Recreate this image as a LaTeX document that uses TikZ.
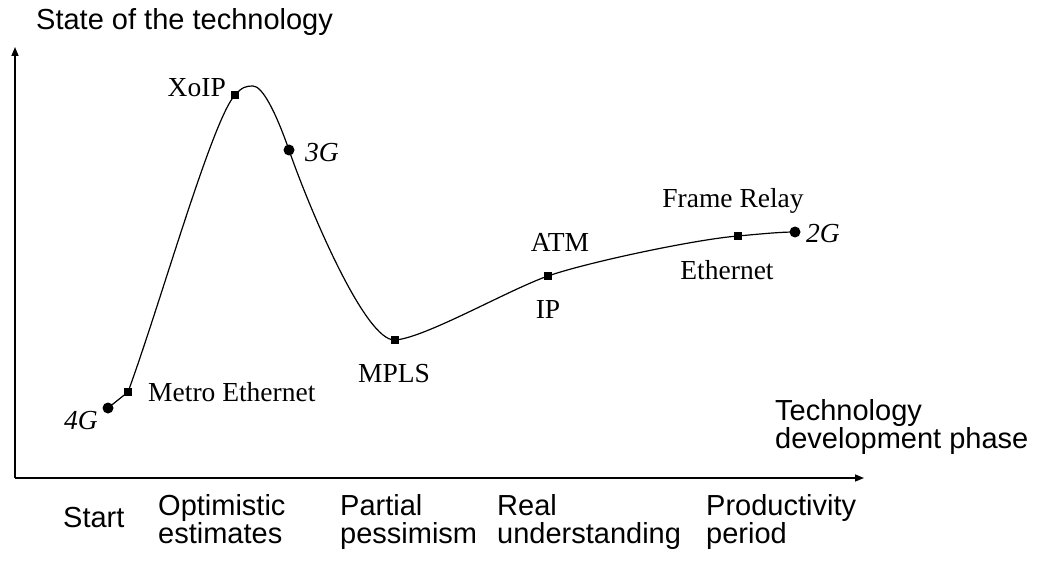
\documentclass[tikz,border=0pt]{standalone}
\usepackage{fontspec}
\setmainfont{Liberation Serif}
\setsansfont{Liberation Sans}
\usetikzlibrary{arrows.meta}
\begin{document}
\begin{tikzpicture}[x=1pt,y=-1pt,
  axis/.style={line width=1.5pt,-{Triangle[length=9pt,width=7pt]}},
  curve/.style={line width=1.2pt},
  sq/.style={fill=black,inner sep=0pt,minimum size=8pt,draw=none},
  dot/.style={circle,fill=black,inner sep=0pt,minimum size=11pt},
  lab/.style={font=\fontsize{27.5}{29}\selectfont,inner sep=0pt},
  ital/.style={font=\fontsize{27.5}{29}\selectfont\itshape,inner sep=0pt},
  ax/.style={font=\sffamily\fontsize{29}{28}\selectfont,inner sep=0pt,align=left},
]
\useasboundingbox (0,0) rectangle (1040,561);
% axes
\coordinate (O) at (15,478);
\coordinate (ytip) at (15,47);
\coordinate (xtip) at (864,478);
\draw[axis] (O) -- (ytip);
\draw[axis] (O) -- (xtip);
\node[ax,anchor=west] (ylab) at (36,22) {State of the technology};
\node[ax,anchor=north west] (xlab) at (775,399) {Technology\\development phase};
% phase labels
\node[ax,anchor=west] (p1) at (63,518) {Start};
\node[ax,anchor=north west] (p2) at (158,494) {Optimistic\\estimates};
\node[ax,anchor=north west] (p3) at (340,494) {Partial\\pessimism};
\node[ax,anchor=north west] (p4) at (497,494) {Real\\understanding};
\node[ax,anchor=north west] (p5) at (706,494) {Productivity\\period};
% curve points
\coordinate (g4) at (108,408);
\coordinate (me) at (128,392);
\coordinate (xo) at (235,95);
\coordinate (pk) at (253,86);
\coordinate (g3) at (289,150);
\coordinate (mp) at (395,340);
\coordinate (ip) at (548,276);
\coordinate (fr) at (738,236);
\coordinate (g2) at (795,232);
\draw[curve] (g4) -- (me)
  .. controls (160,305) and (212,120) .. (xo)
  .. controls (242,87) and (246,86) .. (pk)
  .. controls (262,86) and (275,110) .. (g3)
  .. controls (308,205) and (365,342) .. (mp)
  .. controls (425,338) and (508,290) .. (ip)
  .. controls (588,262) and (698,239) .. (fr)
  .. controls (760,234) and (780,232) .. (g2);
% markers
\node[dot] (d4) at (g4) {};
\node[sq] (sme) at (me) {};
\node[sq] (sxo) at (xo) {};
\node[dot] (d3) at (g3) {};
\node[sq] (smp) at (mp) {};
\node[sq] (sip) at (ip) {};
\node[sq] (sfr) at (fr) {};
\node[dot] (d2) at (g2) {};
% labels
\node[ital,anchor=east] (l4) at (98,421) {4G};
\node[lab,anchor=west] (lme) at (148,392) {Metro Ethernet};
\node[lab,anchor=east] (lxo) at (226,88) {XoIP};
\node[ital,anchor=west] (l3) at (305,153) {3G};
\node[lab] (lmp) at (394,374) {MPLS};
\node[lab] (latm) at (560,242) {ATM};
\node[lab] (lip) at (548,309) {IP};
\node[lab] (lfr) at (733,201) {Frame Relay};
\node[lab] (leth) at (727,270) {Ethernet};
\node[ital,anchor=west] (l2) at (806,234) {2G};
\end{tikzpicture}
\end{document}
